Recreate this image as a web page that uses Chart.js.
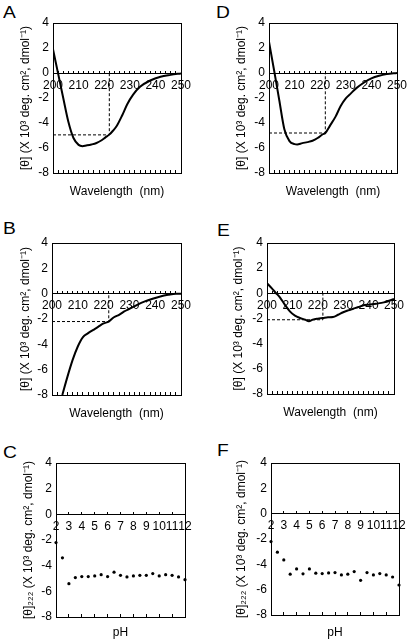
<!DOCTYPE html>
<html>
<head>
<meta charset="utf-8">
<script src="https://cdn.jsdelivr.net/npm/chart.js@4.4.1/dist/chart.umd.min.js"></script>
<style>
  body { margin:0; background:#fff; width:408px; height:641px; position:relative; overflow:hidden;
         font-family:"Liberation Sans", Arial, sans-serif; }
  canvas { position:absolute; }
  .letter { position:absolute; font-size:16px; line-height:1; color:#000;
            transform:scaleX(1.2); transform-origin:left top; }
</style>
</head>
<body>

<div class="letter" style="left:3px;top:5px">A</div>
<div class="letter" style="left:216px;top:5px">D</div>
<div class="letter" style="left:3px;top:221px">B</div>
<div class="letter" style="left:217px;top:223px">E</div>
<div class="letter" style="left:3px;top:445px">C</div>
<div class="letter" style="left:217px;top:443px">F</div>

<canvas id="chartA"></canvas>
<canvas id="chartD"></canvas>
<canvas id="chartB"></canvas>
<canvas id="chartE"></canvas>
<canvas id="chartC"></canvas>
<canvas id="chartF"></canvas>

<script>
// =========================================
// Data
// =========================================

const waveLabels = [200, 210, 220, 230, 240, 250];
const phLabels = [2, 3, 4, 5, 6, 7, 8, 9, 10, 11, 12];
const thetaTicks = [4, 2, 0, -2, -4, -6, -8];

// A
const waveA  = [200, 202, 204, 206, 208, 210, 211.5, 213, 215, 217, 219, 220.5, 222, 223.5, 225, 227, 229, 231.3, 234, 238, 242, 246, 250];
const thetaA = [1.9, -0.05, -2.0, -3.9, -5.2, -5.75, -5.85, -5.8, -5.72, -5.6, -5.38, -5.15, -4.93, -4.6, -4.2, -3.4, -2.5, -1.73, -1.1, -0.6, -0.3, -0.15, -0.03];
const refA = [222, -4.95];

// D
const waveD  = [200, 202, 204, 206, 208, 210, 211, 213, 215, 217, 219, 221, 222, 224, 226, 228, 230, 232, 234, 237, 240, 243, 246, 250];
const thetaD = [2.5, 0.2, -2.16, -4.5, -5.45, -5.69, -5.72, -5.61, -5.53, -5.42, -5.2, -4.9, -4.8, -4.15, -3.49, -2.64, -2.03, -1.63, -1.23, -0.78, -0.43, -0.22, -0.09, 0.0];
const refD = [222, -4.8];

// B
const waveB  = [204, 206, 208, 210, 212, 214, 216, 218, 220, 222, 224, 226, 228, 230, 233, 236, 239, 242, 245, 248, 250];
const thetaB = [-8.0, -6.55, -5.23, -4.17, -3.43, -3.12, -2.86, -2.6, -2.35, -2.2, -1.86, -1.67, -1.4, -1.2, -0.88, -0.61, -0.4, -0.22, -0.09, 0.0, 0.0];
const refB = [222, -2.2];

// E
const waveE  = [200, 202, 203.5, 205, 207, 209, 211, 213, 215, 216.5, 218, 220, 222, 224, 226, 228, 230, 232, 234, 236, 238, 240, 243, 246, 250];
const thetaE = [0.8, 0.37, 0.03, -0.3, -0.9, -1.43, -1.77, -1.96, -2.09, -2.22, -2.09, -2.01, -1.96, -1.9, -1.88, -1.7, -1.5, -1.35, -1.22, -1.09, -0.95, -0.9, -0.82, -0.72, -0.45];
const refE = [222, -2.1];

// C
const phC    = [2, 2.5, 3, 3.5, 4, 4.5, 5, 5.5, 6, 6.5, 7, 7.5, 8, 8.5, 9, 9.5, 10, 10.5, 11, 11.5, 12];
const thetaC = [-2.2, -3.39, -5.4, -4.93, -4.85, -4.85, -4.8, -4.7, -4.85, -4.51, -4.75, -4.88, -4.8, -4.75, -4.75, -4.62, -4.8, -4.7, -4.75, -4.88, -5.09];

// F
const phF    = [2, 2.5, 3, 3.5, 4, 4.5, 5, 5.5, 6, 6.5, 7, 7.5, 8, 8.5, 9, 9.5, 10, 10.5, 11, 11.5, 12];
const thetaF = [-2.2, -3.04, -3.65, -4.78, -4.36, -4.75, -4.36, -4.7, -4.73, -4.68, -4.65, -4.84, -4.78, -4.57, -5.26, -4.65, -4.84, -4.73, -4.84, -5.0, -5.63];

const yTitleCD = "[\u03b8] (X 10\u00b3 deg. cm\u00b2, dmol\u207b\u00b9)";
const yTitle222 = "[\u03b8]\u2082\u2082\u2082 (X 10\u00b3 deg. cm\u00b2, dmol\u207b\u00b9)";

// =========================================
// Defaults
// =========================================

Chart.defaults.font.family = "'Liberation Sans', Arial, sans-serif";
Chart.defaults.color = "#000";

const Y_W = 50;
const PT = 12;
const PR = 22;
const X_H = 34;

// box around the plot area
const framePlugin = {
    id: "frame",
    afterDraw(chart){
        const {ctx, chartArea:a} = chart;
        ctx.save();
        ctx.strokeStyle = "#000";
        ctx.lineWidth = 1;
        ctx.strokeRect(Math.round(a.left) + 0.5, Math.round(a.top) + 0.5,
                       Math.round(a.right - a.left), Math.round(a.bottom - a.top));
        ctx.restore();
    }
};

function xyPoints(xs, ys){
    return xs.map((x, i) => ({x:x, y:ys[i]}));
}

function refPoints(ref, xMin){
    return [{x:xMin, y:ref[1]}, {x:ref[0], y:ref[1]}, {x:ref[0], y:0}];
}

// =========================================
// Panel builder
// =========================================

function buildPanel(id, box, o){

    const canvas = document.getElementById(id);
    const w = Y_W + (box.r - box.l) + PR;
    const h = PT + (box.b - box.t) + X_H + 2;

    canvas.width = w;
    canvas.height = h;
    canvas.style.left = (box.l - Y_W) + "px";
    canvas.style.top = (box.t - PT) + "px";

    const xMin = o.labels[0];
    const xMax = o.labels[o.labels.length - 1];

    new Chart(canvas, {
        type: "line",
        data: { datasets: o.datasets },
        options: {
            responsive: false,
            animation: false,
            layout: { padding: { left:0, top:PT, right:PR, bottom:2 } },
            plugins: { legend:{display:false}, tooltip:{enabled:false} },
            scales: {
                x: {
                    type: "linear",
                    position: { y:0 },
                    min: xMin, max: xMax,
                    ticks: {
                        stepSize: o.step,
                        autoSkip: false,
                        maxRotation: 0,
                        padding: 8,
                        font: { size:12 },
                        callback: v => o.labels.includes(v) ? String(v) : ""
                    },
                    grid: { drawOnChartArea:false, tickLength:-3, color:"#000" },
                    border: { color:"#000", width:1 }
                },
                xb: {
                    type: "linear",
                    position: "bottom",
                    min: xMin, max: xMax,
                    ticks: { display:false, stepSize:o.step },
                    grid: { drawOnChartArea:false, tickLength:-3, color:"#000" },
                    border: { color:"#000", width:1 },
                    title: {
                        display: true,
                        text: o.xTitle,
                        font: { size:12 },
                        padding: { top:0, bottom: X_H - 7.2 - o.xGap }
                    },
                    afterFit: s => { s.height = X_H; }
                },
                y: {
                    min: -8, max: 4,
                    afterBuildTicks: s => { s.ticks = thetaTicks.map(v => ({value:v})); },
                    ticks: { padding:4, font:{ size:12 } },
                    grid: { drawOnChartArea:false, drawTicks:false },
                    border: { color:"#000", width:1 },
                    title: {
                        display: true,
                        text: o.yTitle,
                        font: { size:12 },
                        padding: { top: Y_W - o.yGap - 7.2, bottom:0 }
                    },
                    afterFit: s => { s.width = Y_W; }
                }
            }
        },
        plugins: [framePlugin]
    });

}

function curveSets(xs, ys, ref){
    return [
        {
            data: xyPoints(xs, ys),
            borderColor: "#000",
            borderWidth: 2,
            pointRadius: 0,
            cubicInterpolationMode: "monotone",
            fill: false
        },
        {
            data: refPoints(ref, waveLabels[0]),
            borderColor: "#000",
            borderWidth: 1,
            borderDash: [3, 2],
            pointRadius: 0,
            tension: 0,
            fill: false
        }
    ];
}

function dotSets(xs, ys){
    return [{
        data: xyPoints(xs, ys),
        showLine: false,
        pointRadius: 1.6,
        pointBorderWidth: 0,
        pointBackgroundColor: "#000",
        clip: false
    }];
}

// =========================================
// Panels
// =========================================

const waveOpts = { labels:waveLabels, step:2, xTitle:"Wavelength  (nm)", xGap:19 };
const phOpts = { labels:phLabels, step:1, xTitle:"pH" };

buildPanel("chartA", {l:53, t:23, r:181, b:173},
    Object.assign({}, waveOpts, { yTitle:yTitleCD, yGap:27, datasets:curveSets(waveA, thetaA, refA) }));

buildPanel("chartD", {l:269, t:23, r:397, b:173},
    Object.assign({}, waveOpts, { yTitle:yTitleCD, yGap:27, datasets:curveSets(waveD, thetaD, refD) }));

buildPanel("chartB", {l:52, t:243, r:181, b:395},
    Object.assign({}, waveOpts, { yTitle:yTitleCD, yGap:26, datasets:curveSets(waveB, thetaB, refB) }));

buildPanel("chartE", {l:267, t:243, r:394, b:394},
    Object.assign({}, waveOpts, { yTitle:yTitleCD, yGap:28, datasets:curveSets(waveE, thetaE, refE) }));

buildPanel("chartC", {l:56, t:463, r:185, b:617},
    Object.assign({}, phOpts, { xGap:16, yTitle:yTitle222, yGap:27, datasets:dotSets(phC, thetaC) }));

buildPanel("chartF", {l:271, t:463, r:399, b:615},
    Object.assign({}, phOpts, { xGap:18, yTitle:yTitle222, yGap:29, datasets:dotSets(phF, thetaF) }));
</script>
</body>
</html>
